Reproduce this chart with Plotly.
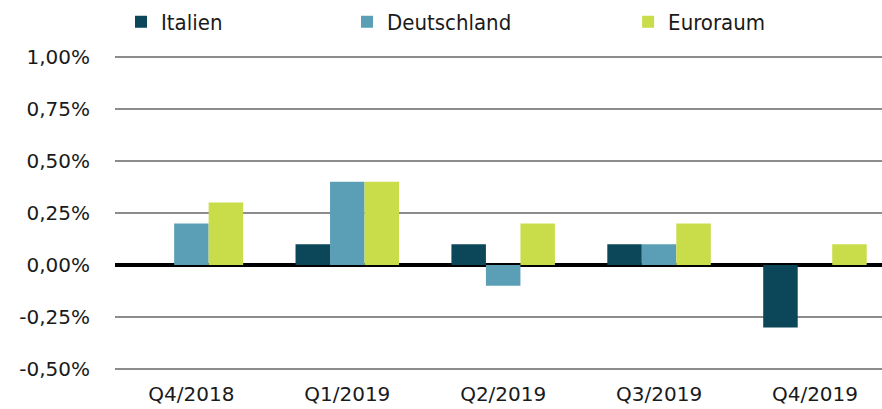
import plotly.graph_objects as go

categories = ["Q4/2018", "Q1/2019", "Q2/2019", "Q3/2019", "Q4/2019"]
italien = [0.0, 0.1, 0.1, 0.1, -0.3]
deutschland = [0.2, 0.4, -0.1, 0.1, 0.0]
euroraum = [0.3, 0.4, 0.2, 0.2, 0.1]
y_tickvals = [-0.5, -0.25, 0.0, 0.25, 0.5, 0.75, 1.0]
y_ticktext = ["-0,50%", "-0,25%", "0,00%", "0,25%", "0,50%", "0,75%", "1,00%"]

colors = {"Italien": "#0b4659", "Deutschland": "#5b9fb7", "Euroraum": "#c9dd4a"}

fig = go.Figure()
for name, vals, lg in [("Italien", italien, "legend"),
                       ("Deutschland", deutschland, "legend2"),
                       ("Euroraum", euroraum, "legend3")]:
    fig.add_trace(go.Bar(x=categories, y=vals, name=name, marker_color=colors[name],
                         marker_line_width=0, legend=lg))

legend_font = dict(family="DejaVu Sans Condensed, DejaVu Sans", size=22, color="#1a1a1a")
def lg(x):
    return dict(x=x, y=1.097, xanchor="left", yanchor="middle", orientation="h",
                font=legend_font, bgcolor="rgba(0,0,0,0)", itemwidth=30)

fig.update_layout(
    width=882, height=409,
    margin=dict(l=115, r=0, t=53, b=36, autoexpand=False),
    paper_bgcolor="white", plot_bgcolor="white",
    barmode="group", bargap=0.336, bargroupgap=0,
    showlegend=True,
    legend=lg(0.0078), legend2=lg(0.3025), legend3=lg(0.669),
    font=dict(family="DejaVu Sans", size=20, color="#1a1a1a"),
    xaxis=dict(range=[-0.49, 4.43], showgrid=False, showline=False, ticks="",
               ticklabelstandoff=7, tickfont=dict(size=20), automargin=False),
    yaxis=dict(range=[-0.5192, 1.0192], tickvals=y_tickvals, ticktext=y_ticktext,
               showgrid=True, gridcolor="#8c8c8c", gridwidth=2,
               zeroline=True, zerolinecolor="black", zerolinewidth=4,
               showline=False, ticks="", ticklabelstandoff=24, tickfont=dict(size=20),
               automargin=False),
)

fig.write_html("out.html", config={"displayModeBar": False},
               post_script="document.body.style.margin='0';document.body.style.overflow='hidden';")
